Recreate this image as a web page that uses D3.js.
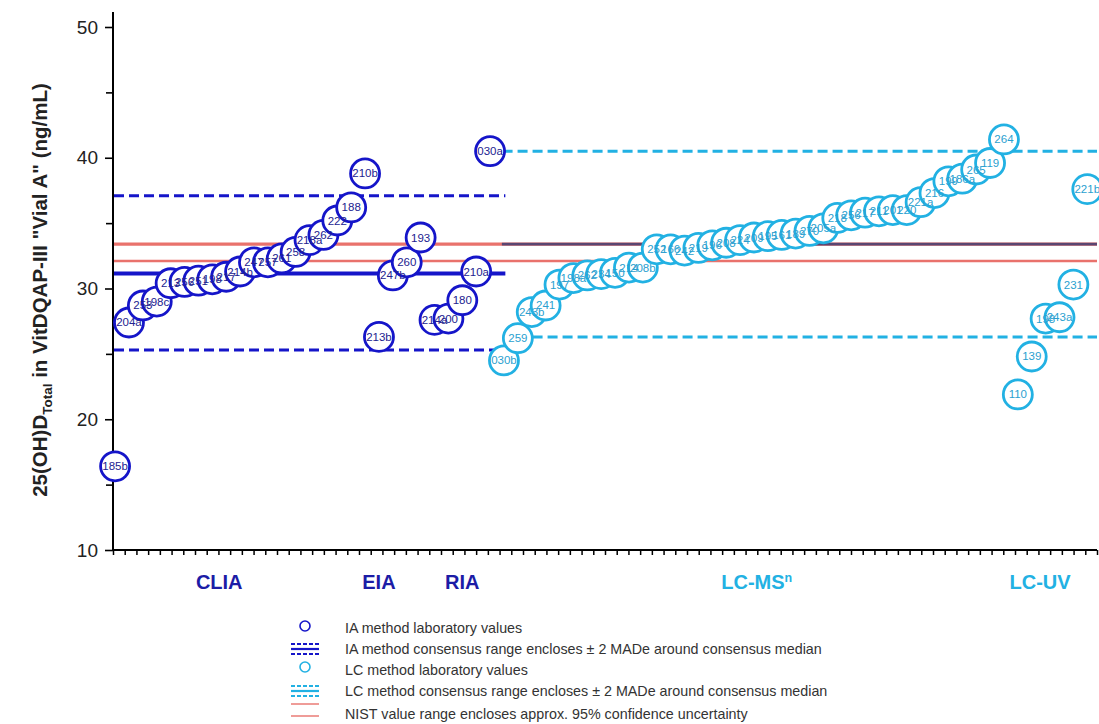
<!DOCTYPE html>
<html>
<head>
<meta charset="utf-8">
<script src="https://cdn.jsdelivr.net/npm/d3@7"></script>
<style>
  html, body { margin: 0; padding: 0; background: #fff; }
  svg { display: block; font-family: "Liberation Sans", Arial, sans-serif; }
</style>
</head>
<body>
<svg id="chart" width="1099" height="724"></svg>
<script>
// Immunoassay (IA) laboratory results, in plotting order
const iaLabs = ["185b","204a","253","198c","213","256","251","198","217","214b","247","257","261","258","218a","262","222","188","210b",
                "213b","247b","260","193",
                "214a","200","180","210a","030a"];
const iaValues = [16.4,27.4,28.7,29.0,30.4,30.5,30.6,30.7,30.9,31.3,32.0,32.0,32.3,32.8,33.7,34.1,35.2,36.2,38.8,
                  26.3,31.0,32.0,33.9,
                  27.6,27.7,29.1,31.3,40.5];

// LC-MS^n and LC-UV laboratory results, in plotting order
const lcLabs = ["030b","259","243b","241","197","198a","262","234","150","214","208b",
                "252","166","242","219","196","208","224","209","195","161","189","270","205a",
                "218","256","217","211","201","220","221a","216","199","186a","265","119","264",
                "110","139","198","243a","231","221b"];
const lcValues = [24.5,26.2,28.2,28.7,30.3,30.8,31.0,31.1,31.2,31.6,31.6,
                  33.0,33.0,32.9,33.1,33.3,33.5,33.7,33.9,34.0,34.1,34.2,34.4,34.6,
                  35.4,35.6,35.8,35.9,36.0,36.0,36.6,37.3,38.2,38.4,39.1,39.6,41.4,
                  21.9,24.8,27.7,27.8,30.3,37.6];

// Consensus summaries (ng/mL)
const iaConsensus = { median: 31.15, low: 25.3, high: 37.1 };
const lcConsensus = { median: 33.4, low: 26.3, high: 40.5 };
const nistRange = [32.1, 33.4];

// Method group labels and their position along the lab axis
const groupNames = ["CLIA", "EIA", "RIA", "LC-MS", "LC-UV"];
const groupPos = [7.5, 19, 25, 46.2, 66.6];
const groupIsLC = [false, false, false, true, true];
const groupSup = ["", "", "", "n", ""];

const yTicksMajor = [10, 20, 30, 40, 50];
const yTicksMinor = [15, 25, 35, 45];

const legendItems = [
  "IA method laboratory values",
  "IA method consensus range encloses \u00b1 2 MADe around consensus median",
  "LC method laboratory values",
  "LC method consensus range encloses \u00b1 2 MADe around consensus median",
  "NIST value range encloses approx. 95% confidence uncertainty"
];

const IA_STROKE = "#1515c9", IA_TEXT = "#222290";
const LC_STROKE = "#22b1e3", LC_TEXT = "#2a9fd0";
const NIST_RED = "#e9726c", LC_MEDIAN = "#5a4672";

const svg = d3.select("#chart");

const nIA = iaLabs.length;
const x = d3.scaleLinear().domain([-0.15, 70.7]).range([113, 1097]);
const y = d3.scaleLinear().domain([10, 50]).range([550, 27]);
const tickScale = d3.scaleLinear().domain([0, 84]).range([113, 1097]);

const ia = iaLabs.map((lab, i) => ({ lab, v: iaValues[i], i }));
const lc = lcLabs.map((lab, i) => ({ lab, v: lcValues[i], i: i + nIA }));

// --- axes ---
const yAxisG = svg.append("g").attr("transform", "translate(113,0)");
yAxisG.append("line").attr("x1", 0).attr("x2", 0).attr("y1", 12).attr("y2", 551)
  .attr("stroke", "#000").attr("stroke-width", 2);
yAxisG.call(d3.axisLeft(y).tickValues(yTicksMajor).tickSize(8).tickPadding(7).tickFormat(d3.format("d")))
  .call(g => g.select(".domain").remove())
  .call(g => g.selectAll(".tick line").attr("stroke", "#000").attr("stroke-width", 1.6))
  .call(g => g.selectAll(".tick text").attr("fill", "#222").attr("font-size", 19)
      .attr("font-family", "Liberation Sans, Arial, sans-serif"));
yAxisG.append("g").call(d3.axisLeft(y).tickValues(yTicksMinor).tickSize(7).tickFormat(""))
  .call(g => g.select(".domain").remove())
  .call(g => g.selectAll(".tick line").attr("stroke", "#000").attr("stroke-width", 1.6));

const xAxisG = svg.append("g").attr("transform", "translate(0,550)");
xAxisG.append("line").attr("x1", 112).attr("x2", 1097).attr("y1", 0).attr("y2", 0)
  .attr("stroke", "#000").attr("stroke-width", 2);
xAxisG.call(d3.axisBottom(tickScale).tickValues(d3.range(0, 85)).tickSize(5).tickFormat(""))
  .call(g => g.select(".domain").remove())
  .call(g => g.selectAll(".tick line").attr("stroke", "#000").attr("stroke-width", 1.5));

// y-axis title
const yTitle = svg.append("text")
  .attr("transform", "translate(47,290) rotate(-90)")
  .attr("text-anchor", "middle")
  .attr("font-weight", "bold").attr("font-size", 20.5).attr("fill", "#222");
yTitle.append("tspan").text("25(OH)D");
yTitle.append("tspan").attr("font-size", 13.5).attr("dy", 5).text("Total");
yTitle.append("tspan").attr("dy", -5).text(" in VitDQAP-III \"Vial A\" (ng/mL)");

// --- reference lines ---
const hline = (v, x0, x1, color, width, dash) =>
  svg.append("line").attr("x1", x0).attr("x2", x1).attr("y1", y(v)).attr("y2", y(v))
    .attr("stroke", color).attr("stroke-width", width).attr("stroke-dasharray", dash || null);

const iaEnd = x(28.1);
const lcStart = x(27.85);
hline(nistRange[0], 114, 1097, NIST_RED, 2.6);
hline(nistRange[1], 114, 1097, NIST_RED, 3.2);
hline(lcConsensus.median, lcStart, 1097, LC_MEDIAN, 2.8);
hline(iaConsensus.median, 114, iaEnd, IA_STROKE, 4);
hline(iaConsensus.high, 114, iaEnd, IA_STROKE, 3, "10,5");
hline(iaConsensus.low, 114, iaEnd, IA_STROKE, 3, "10,5");
hline(lcConsensus.high, x(27.9), 1097, LC_STROKE, 3, "10,5");
hline(lcConsensus.low, x(27.9), 1097, LC_STROKE, 3, "10,5");

// --- lab circles ---
const R = 14.5;
const circles = svg.append("g");
circles.selectAll("circle.ia").data(ia).join("circle").attr("class", "ia")
  .attr("cx", d => x(d.i)).attr("cy", d => y(d.v)).attr("r", R)
  .attr("fill", "#fff").attr("stroke", IA_STROKE).attr("stroke-width", 2.8);
circles.selectAll("circle.lc").data(lc).join("circle").attr("class", "lc")
  .attr("cx", d => x(d.i)).attr("cy", d => y(d.v)).attr("r", R)
  .attr("fill", "#fff").attr("stroke", LC_STROKE).attr("stroke-width", 2.8);

const labels = svg.append("g").attr("font-size", 11.5).attr("text-anchor", "middle");
labels.selectAll("text.ia").data(ia).join("text").attr("class", "ia")
  .attr("x", d => x(d.i)).attr("y", d => y(d.v) + 4).attr("fill", IA_TEXT).text(d => d.lab);
labels.selectAll("text.lc").data(lc).join("text").attr("class", "lc")
  .attr("x", d => x(d.i)).attr("y", d => y(d.v) + 4).attr("fill", LC_TEXT).text(d => d.lab);

// --- method group labels ---
groupNames.forEach((name, k) => {
  const t = svg.append("text")
    .attr("x", x(groupPos[k])).attr("y", 589)
    .attr("text-anchor", "middle")
    .attr("font-family", "Liberation Sans Narrow, Arial Narrow, Liberation Sans, sans-serif")
    .attr("font-weight", "bold").attr("font-size", 20)
    .attr("fill", groupIsLC[k] ? LC_STROKE : "#1c1ca6")
    .text(name);
  if (groupSup[k]) t.append("tspan").attr("font-size", 12.5).attr("dy", -7).text(groupSup[k]);
});

// --- legend ---
const legend = svg.append("g");
const rowY = [628, 649, 670, 691, 714];
legendItems.forEach((txt, k) => {
  legend.append("text").attr("x", 345).attr("y", rowY[k] + 5)
    .attr("font-size", 14.3).attr("fill", "#333").text(txt);
});
const sym = legend.append("g");
sym.append("circle").attr("cx", 305).attr("cy", rowY[0] - 2).attr("r", 5)
  .attr("fill", "none").attr("stroke", IA_STROKE).attr("stroke-width", 1.6);
sym.append("circle").attr("cx", 305).attr("cy", rowY[2] - 3).attr("r", 5)
  .attr("fill", "none").attr("stroke", LC_STROKE).attr("stroke-width", 1.6);
[[rowY[1], IA_STROKE], [rowY[3], LC_STROKE]].forEach(([cy, col]) => {
  sym.append("line").attr("x1", 291).attr("x2", 319).attr("y1", cy - 5).attr("y2", cy - 5)
    .attr("stroke", col).attr("stroke-width", 2).attr("stroke-dasharray", "4,2");
  sym.append("line").attr("x1", 291).attr("x2", 319).attr("y1", cy).attr("y2", cy)
    .attr("stroke", col).attr("stroke-width", 2.2);
  sym.append("line").attr("x1", 291).attr("x2", 319).attr("y1", cy + 5).attr("y2", cy + 5)
    .attr("stroke", col).attr("stroke-width", 2).attr("stroke-dasharray", "4,2");
});
sym.append("line").attr("x1", 291).attr("x2", 319).attr("y1", rowY[4] - 10).attr("y2", rowY[4] - 10)
  .attr("stroke", NIST_RED).attr("stroke-width", 1.4);
sym.append("line").attr("x1", 291).attr("x2", 319).attr("y1", rowY[4] + 2).attr("y2", rowY[4] + 2)
  .attr("stroke", NIST_RED).attr("stroke-width", 1.4);
</script>
</body>
</html>
